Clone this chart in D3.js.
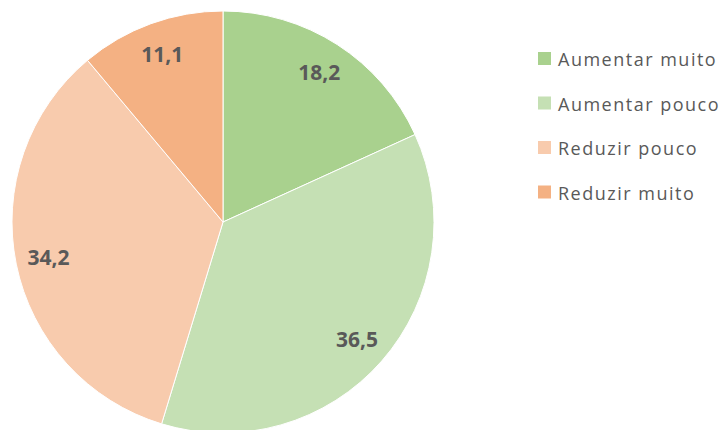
<!DOCTYPE html>
<html>
<head>
<meta charset="utf-8">
<script src="https://cdn.jsdelivr.net/npm/d3@7"></script>
<style>
  body { margin: 0; background: #fff; }
  svg { display: block; }
</style>
</head>
<body>
<div class="visuals"></div>
<script>
// chart data
const categories = ["Aumentar muito", "Aumentar pouco", "Reduzir pouco", "Reduzir muito"];
const values = [18.2, 36.5, 34.2, 11.1];
const labels = ["18,2", "36,5", "34,2", "11,1"];
const colors = ["#A9D18E", "#C5E0B4", "#F8CBAD", "#F4B183"];

const width = 726;
const height = 430;
const cx = 223, cy = 222, radius = 211;

const svg = d3.select(".visuals")
  .append("svg")
  .attr("width", width)
  .attr("height", height);

const pie = d3.pie().sort(null).value(d => d.value);
const arcs = pie(categories.map((c, i) => ({ name: c, value: values[i], label: labels[i] })));

const arc = d3.arc().innerRadius(0).outerRadius(radius);
const labelArc = d3.arc().innerRadius(178).outerRadius(178);

const g = svg.append("g").attr("transform", `translate(${cx},${cy})`);

g.selectAll("path")
  .data(arcs)
  .enter()
  .append("path")
  .attr("d", arc)
  .attr("fill", (d, i) => colors[i])
  .attr("stroke", "#fff")
  .attr("stroke-width", 1);

g.selectAll("text")
  .data(arcs)
  .enter()
  .append("text")
  .attr("transform", d => `translate(${labelArc.centroid(d)})`)
  .attr("text-anchor", "middle")
  .attr("dy", "0.36em")
  .attr("font-family", "'Open Sans', sans-serif")
  .attr("font-weight", "bold")
  .attr("font-size", 21)
  .attr("fill", "#595959")
  .text(d => d.data.label);

// legend
const legend = svg.append("g").attr("transform", "translate(538,52)");
const item = legend.selectAll("g")
  .data(categories)
  .enter()
  .append("g")
  .attr("transform", (d, i) => `translate(0,${i * 44.5})`);

item.append("rect")
  .attr("width", 13)
  .attr("height", 13)
  .attr("fill", (d, i) => colors[i]);

item.append("text")
  .attr("x", 20)
  .attr("y", 14)
  .attr("font-family", "'Open Sans', sans-serif")
  .attr("font-size", 18)
  .attr("letter-spacing", 1.5)
  .attr("fill", "#595959")
  .text(d => d);
</script>
</body>
</html>
